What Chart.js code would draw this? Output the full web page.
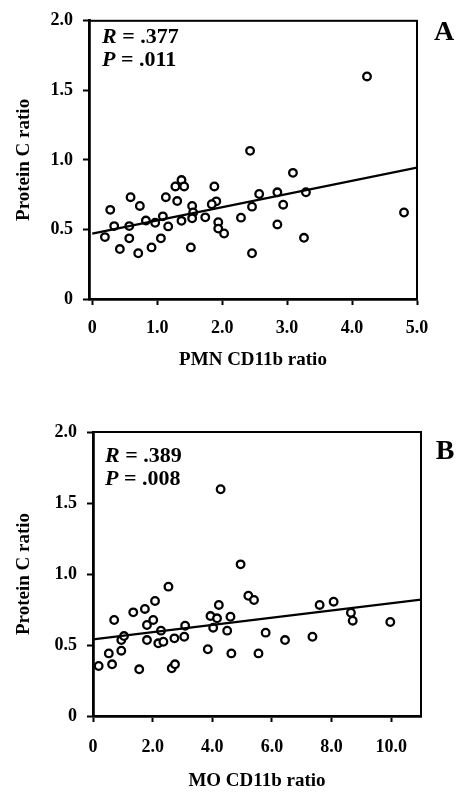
<!DOCTYPE html>
<html>
<head>
<meta charset="utf-8">
<script src="https://cdn.jsdelivr.net/npm/chart.js@4.4.1/dist/chart.umd.min.js"></script>
<style>
  body { margin: 0; background: #fff; }
  canvas { display: block; }
</style>
</head>
<body>
<canvas id="chartA" width="460" height="396"></canvas>
<canvas id="chartB" width="460" height="396"></canvas>
<script>
// panel A - PMN CD11b ratio vs protein C ratio
const pmnX = [0.195, 0.277, 0.338, 0.425, 0.59, 0.57, 0.57, 0.733, 0.708, 0.826, 0.913, 0.969, 1.057, 1.087, 1.133,
  1.169, 1.28, 1.308, 1.374, 1.415, 1.374, 1.518, 1.538, 1.554, 1.538, 1.74, 1.88, 1.91, 1.84, 1.94, 1.94, 2.03,
  2.29, 2.46, 2.46, 2.57, 2.43, 2.85, 2.94, 2.85, 3.09, 3.26, 3.29, 4.23, 4.8];
const pmnY = [0.445, 0.641, 0.524, 0.359, 0.732, 0.524, 0.436, 0.669, 0.329, 0.564, 0.371, 0.548, 0.436, 0.594, 0.732,
  0.522, 0.809, 0.704, 0.855, 0.809, 0.562, 0.371, 0.669, 0.622, 0.58, 0.587, 0.809, 0.702, 0.681, 0.552, 0.506, 0.471,
  0.585, 0.664, 0.329, 0.755, 1.065, 0.767, 0.678, 0.536, 0.907, 0.44, 0.767, 1.6, 0.622];
const pmnFitX = [0, 5];
const pmnFitY = [0.47, 0.945];
const pmnTicks = [0, 1, 2, 3, 4, 5];
const pmnTickLabels = ['0', '1.0', '2.0', '3.0', '4.0', '5.0'];

// panel B - MO CD11b ratio vs protein C ratio
const moX = [0.19, 0.53, 0.64, 0.71, 0.95, 0.95, 1.04, 1.35, 1.55, 1.74, 1.81, 1.81, 2.02, 2.08, 2.19, 2.28, 2.36,
  2.53, 2.64, 2.75, 2.73, 3.09, 3.06, 3.85, 4.95, 5.21, 5.4, 4.22, 3.94, 4.16, 4.61, 4.03, 4.5, 4.64, 5.55, 5.79,
  6.44, 7.36, 7.6, 8.07, 8.65, 8.71, 9.97, 4.28];
const moY = [0.352, 0.441, 0.364, 0.676, 0.46, 0.535, 0.563, 0.73, 0.329, 0.754, 0.535, 0.641, 0.676, 0.81, 0.512,
  0.601, 0.523, 0.911, 0.336, 0.364, 0.547, 0.636, 0.558, 0.47, 1.068, 0.847, 0.817, 0.782, 0.704, 0.688, 0.699,
  0.622, 0.601, 0.441, 0.441, 0.587, 0.535, 0.558, 0.782, 0.805, 0.727, 0.671, 0.662, 1.597];
const moFitX = [0, 11];
const moFitY = [0.54, 0.82];
const moTicks = [0, 2, 4, 6, 8, 10];
const moTickLabels = ['0', '2.0', '4.0', '6.0', '8.0', '10.0'];

const yTicks = [0, 0.5, 1, 1.5, 2];
const yTickLabels = ['0', '0.5', '1.0', '1.5', '2.0'];

const panelLetters = ['A', 'B'];
const statR = ['.377', '.389'];
const statP = ['.011', '.008'];
const xTitles = ['PMN CD11b ratio', 'MO CD11b ratio'];
const yTitle = 'Protein C ratio';

const FONT = '"Liberation Serif", "Times New Roman", serif';

// box round the plot + the R / P text and panel letter
const panelPlugin = {
  id: 'panel',
  afterDraw(chart, args, opts) {
    const ctx = chart.ctx;
    const a = chart.chartArea;
    ctx.save();
    ctx.strokeStyle = '#000';
    ctx.lineWidth = 2;
    ctx.strokeRect(a.left, a.top, a.right - a.left, a.bottom - a.top);

    ctx.fillStyle = '#000';
    ctx.textBaseline = 'alphabetic';
    ctx.textAlign = 'left';
    const lines = [['R', opts.r], ['P', opts.p]];
    lines.forEach((l, i) => {
      const y = opts.textY + i * 23;
      ctx.font = 'italic bold 22px ' + FONT;
      ctx.fillText(l[0], opts.textX, y);
      const w = ctx.measureText(l[0]).width;
      ctx.font = 'bold 22px ' + FONT;
      ctx.fillText(' = ' + l[1], opts.textX + w, y);
    });

    ctx.font = 'bold 28px ' + FONT;
    ctx.textAlign = 'center';
    ctx.fillText(opts.letter, opts.letterX, opts.letterY);
    ctx.restore();
  }
};

function makeChart(id, idx, xs, ys, fitX, fitY, xMin, xMax, xTickVals, xTickLabels, lay) {
  const pts = xs.map((x, i) => ({ x: x, y: ys[i] }));
  const fit = fitX.map((x, i) => ({ x: x, y: fitY[i] }));
  const ctx = document.getElementById(id).getContext('2d');
  return new Chart(ctx, {
    type: 'scatter',
    data: {
      datasets: [{
        data: fit,
        showLine: true,
        borderColor: '#000',
        borderWidth: 2.2,
        pointRadius: 0
      }, {
        data: pts,
        pointStyle: 'circle',
        pointRadius: 3.8,
        pointBorderWidth: 2.3,
        pointBorderColor: '#000',
        pointBackgroundColor: '#fff'
      }]
    },
    options: {
      responsive: false,
      animation: false,
      layout: { padding: { top: lay.top, right: lay.right, left: 0, bottom: 0 } },
      plugins: {
        legend: { display: false },
        tooltip: { enabled: false },
        panel: {
          letter: panelLetters[idx], r: statR[idx], p: statP[idx],
          textX: lay.textX, textY: lay.textY, letterX: lay.letterX, letterY: lay.letterY
        }
      },
      scales: {
        x: {
          type: 'linear',
          min: xMin,
          max: xMax,
          afterFit: (s) => { s.height = lay.xAxisH; },
          afterBuildTicks: (s) => { s.ticks = xTickVals.map(v => ({ value: v })); },
          grid: { drawOnChartArea: false, drawTicks: true, tickLength: 6, tickWidth: 2, tickColor: '#000' },
          border: { display: true, color: '#000', width: 2.8 },
          ticks: {
            color: '#000',
            padding: lay.xTickPad,
            maxRotation: 0,
            font: { family: FONT, size: 18, weight: 'bold' },
            callback: (v) => xTickLabels[xTickVals.indexOf(v)]
          },
          title: {
            display: true,
            text: xTitles[idx],
            color: '#000',
            font: { family: FONT, size: 19, weight: 'bold' },
            padding: { top: 0, bottom: lay.xTitlePad }
          }
        },
        y: {
          type: 'linear',
          min: 0,
          max: 2,
          afterFit: (s) => { s.width = lay.left; },
          afterBuildTicks: (s) => { s.ticks = yTicks.map(v => ({ value: v })); },
          grid: { drawOnChartArea: false, drawTicks: true, tickLength: 6, tickWidth: 2, tickColor: '#000' },
          border: { display: true, color: '#000', width: 2.8 },
          ticks: {
            color: '#000',
            padding: 10,
            font: { family: FONT, size: 18, weight: 'bold' },
            callback: (v) => yTickLabels[yTicks.indexOf(v)]
          },
          title: {
            display: true,
            text: yTitle,
            color: '#000',
            font: { family: FONT, size: 19, weight: 'bold' },
            padding: { top: 12.6, bottom: 0 }
          }
        }
      }
    },
    plugins: [panelPlugin]
  });
}

makeChart('chartA', 0, pmnX, pmnY, pmnFitX, pmnFitY, -0.05, 5, pmnTicks, pmnTickLabels,
  { top: 13, right: 43, left: 89, xAxisH: 97, xTickPad: 12.5, xTitlePad: 24.6,
    textX: 102, textY: 43, letterX: 444, letterY: 40 });
makeChart('chartB', 1, moX, moY, moFitX, moFitY, 0, 11, moTicks, moTickLabels,
  { top: 36, right: 39, left: 93, xAxisH: 76, xTickPad: 14.5, xTitlePad: 0,
    textX: 105, textY: 66, letterX: 445, letterY: 63 });
</script>
</body>
</html>
